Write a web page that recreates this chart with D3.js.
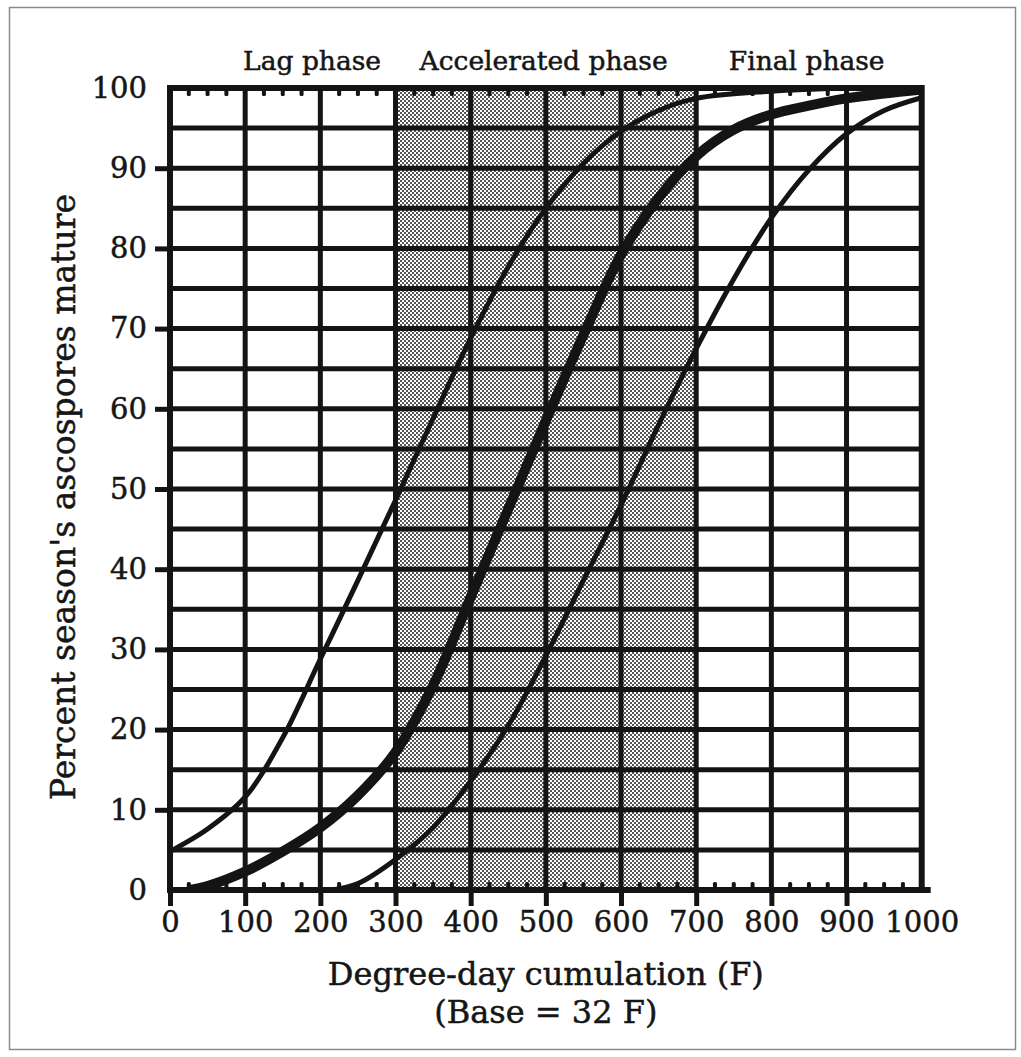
<!DOCTYPE html>
<html>
<head>
<meta charset="utf-8">
<script src="https://cdn.jsdelivr.net/npm/d3@7/dist/d3.min.js"></script>
<style>
  html, body { margin: 0; padding: 0; background: #fff; }
  svg { display: block; }
  text { font-family: "DejaVu Serif", "Liberation Serif", serif; fill: #161616; }
</style>
</head>
<body>
<svg id="chart" width="1021" height="1057"></svg>
<script>
// ---------- data ----------
const xTicks = [0, 100, 200, 300, 400, 500, 600, 700, 800, 900, 1000];
const yTicks = [0, 10, 20, 30, 40, 50, 60, 70, 80, 90, 100];
const gridStepY = 5;          // horizontal rule every 5 %
const minorTickStepX = 25;    // small notches every 25 degree-days

const phaseNames  = ["Lag phase", "Accelerated phase", "Final phase"];
const phaseStart  = [0, 300, 700];
const phaseEnd    = [300, 700, 1000];
const phaseLabelAt = [189, 497, 847];
const shadedPhase = 1;

// early (left) curve
const earlyX = [0, 50, 100, 150, 200, 250, 300, 350, 400, 450, 500, 550, 600, 650, 700, 800, 900];
const earlyY = [4.8, 7.6, 11.6, 19, 28.8, 38.6, 48.6, 58.8, 68.8, 77.7, 85, 90.6, 94.6, 97.2, 98.7, 99.6, 100];

// mean (thick) curve
const meanX = [25, 50, 100, 150, 200, 250, 300, 350, 400, 450, 500, 550, 600, 650, 700, 750, 800, 850, 900, 950, 1000];
const meanY = [0, 0.5, 2.3, 4.8, 7.8, 11.8, 17.2, 25.5, 36.5, 47.5, 58.5, 69.2, 79.2, 86.3, 91.5, 94.8, 96.7, 97.8, 98.7, 99.3, 99.8];

// late (right) curve
const lateX = [215, 250, 300, 350, 400, 450, 500, 550, 600, 650, 700, 750, 800, 850, 900, 950, 1000];
const lateY = [0, 0.8, 3.8, 7.8, 13.6, 20.5, 29.2, 38.6, 48, 58, 67.5, 76.2, 83.8, 89.8, 94.3, 97.2, 98.8];

const seriesList = [
  { name: "early", xs: earlyX, ys: earlyY, width: 5 },
  { name: "mean",  xs: meanX,  ys: meanY,  width: 10 },
  { name: "late",  xs: lateX,  ys: lateY,  width: 5 }
];

const yTitle = "Percent season's ascospores mature";
const xTitle1 = "Degree-day cumulation (F)";
const xTitle2 = "(Base = 32 F)";

// ---------- drawing ----------
const ink = "#141414";
const svg = d3.select("#chart");

const x = d3.scaleLinear().domain([0, 1000]).range([170, 921.7]);
const y = d3.scaleLinear().domain([0, 100]).range([890, 88]);

svg.append("rect").attr("width", 1021).attr("height", 1057).attr("fill", "#fff");
// outer frame
svg.append("rect").attr("x", 9.5).attr("y", 7.5).attr("width", 1006).attr("height", 1042)
  .attr("fill", "none").attr("stroke", "#8a8a8a").attr("stroke-width", 1.5);

// stipple pattern
const defs = svg.append("defs");
const pat = defs.append("pattern").attr("id", "stipple")
  .attr("patternUnits", "userSpaceOnUse").attr("width", 4).attr("height", 4);
pat.append("rect").attr("width", 4).attr("height", 4).attr("fill", "#fff");
pat.append("rect").attr("x", 0).attr("y", 0).attr("width", 2).attr("height", 2).attr("fill", "#555");
pat.append("rect").attr("x", 2).attr("y", 2).attr("width", 2).attr("height", 2).attr("fill", "#555");

defs.append("clipPath").attr("id", "plotClip").append("rect")
  .attr("x", x(0)).attr("y", y(100)).attr("width", x(1000) - x(0)).attr("height", y(0) - y(100));

// shaded accelerated phase
svg.append("rect")
  .attr("x", x(phaseStart[shadedPhase])).attr("y", y(100))
  .attr("width", x(phaseEnd[shadedPhase]) - x(phaseStart[shadedPhase]))
  .attr("height", y(0) - y(100))
  .attr("fill", "url(#stipple)");

// grid
const gridYVals = d3.range(gridStepY, 100, gridStepY);
const gridXVals = xTicks.filter(v => v > 0 && v < 1000);
const grid = svg.append("g").attr("stroke", ink).attr("stroke-width", 5);
grid.selectAll("line.h").data(gridYVals).join("line").attr("class", "h")
  .attr("x1", x(0)).attr("x2", x(1000)).attr("y1", d => y(d)).attr("y2", d => y(d));
grid.selectAll("line.v").data(gridXVals).join("line").attr("class", "v")
  .attr("y1", y(100)).attr("y2", y(0)).attr("x1", d => x(d)).attr("x2", d => x(d));

// minor notches along top and bottom
const notchVals = d3.range(minorTickStepX, 1000, minorTickStepX).filter(v => v % 100 !== 0);
const notches = svg.append("g").attr("fill", ink);
notches.selectAll("rect.t").data(notchVals).join("rect").attr("class", "t")
  .attr("x", d => x(d) - 2).attr("y", y(100) + 2).attr("width", 4).attr("height", 6).attr("rx", 1.5);
notches.selectAll("rect.b").data(notchVals).join("rect").attr("class", "b")
  .attr("x", d => x(d) - 2).attr("y", y(0) - 8).attr("width", 4).attr("height", 6).attr("rx", 1.5);

// curves
const line = d3.line().x(d => x(d[0])).y(d => y(d[1])).curve(d3.curveCatmullRom.alpha(0.5));
svg.append("g").attr("clip-path", "url(#plotClip)")
  .selectAll("path").data(seriesList).join("path")
  .attr("d", s => line(s.xs.map((v, i) => [v, s.ys[i]])))
  .attr("fill", "none").attr("stroke", ink)
  .attr("stroke-width", s => s.width).attr("stroke-linejoin", "round");

// plot border
svg.append("rect")
  .attr("x", x(0)).attr("y", y(100))
  .attr("width", x(1000) - x(0)).attr("height", y(0) - y(100))
  .attr("fill", "none").attr("stroke", ink).attr("stroke-width", 6);
svg.append("line").attr("x1", x(1000)).attr("x2", x(1000) + 9)
  .attr("y1", y(0)).attr("y2", y(0)).attr("stroke", ink).attr("stroke-width", 6);

// left axis: tick marks and labels
const fmt = d3.format("d");
const leftTicks = svg.append("g").attr("transform", `translate(${x(0)},0)`)
  .call(d3.axisLeft(y).tickValues(yTicks.filter(v => v > 0 && v < 100)).tickSize(15).tickFormat(""));
const leftLabels = svg.append("g").attr("transform", `translate(${x(0)},0)`)
  .call(d3.axisLeft(y).tickValues(yTicks).tickSize(0).tickPadding(23).tickFormat(fmt));
// bottom axis
const bottomTicks = svg.append("g").attr("transform", `translate(0,${y(0)})`)
  .call(d3.axisBottom(x).tickValues(xTicks.filter(v => v < 1000)).tickSize(16).tickFormat(""));
const bottomLabels = svg.append("g").attr("transform", `translate(0,${y(0)})`)
  .call(d3.axisBottom(x).tickValues(xTicks).tickSize(0).tickPadding(21).tickFormat(fmt));

[leftTicks, leftLabels, bottomTicks, bottomLabels].forEach(g => {
  g.select(".domain").remove();
  g.selectAll(".tick line").attr("stroke", ink).attr("stroke-width", 5);
  g.selectAll("text").attr("font-family", "DejaVu Serif, serif").attr("font-size", 29)
    .attr("fill", ink).attr("stroke", ink).attr("stroke-width", 0.5);
});

// phase labels
svg.append("g").selectAll("text").data(phaseNames).join("text")
  .attr("x", (d, i) => x(phaseLabelAt[i])).attr("y", 70)
  .attr("text-anchor", "middle").attr("font-size", 26.5)
  .attr("stroke", ink).attr("stroke-width", 0.5)
  .text(d => d);

// axis titles
svg.append("text")
  .attr("transform", `translate(75,${(y(0) + y(100)) / 2 + 8}) rotate(-90)`)
  .attr("text-anchor", "middle").attr("font-size", 33)
  .attr("stroke", ink).attr("stroke-width", 0.5)
  .text(yTitle);
svg.append("text").attr("x", (x(0) + x(1000)) / 2).attr("y", 985)
  .attr("text-anchor", "middle").attr("font-size", 32)
  .attr("stroke", ink).attr("stroke-width", 0.5)
  .text(xTitle1);
svg.append("text").attr("x", (x(0) + x(1000)) / 2).attr("y", 1023)
  .attr("text-anchor", "middle").attr("font-size", 32)
  .attr("stroke", ink).attr("stroke-width", 0.5)
  .text(xTitle2);
</script>
</body>
</html>
